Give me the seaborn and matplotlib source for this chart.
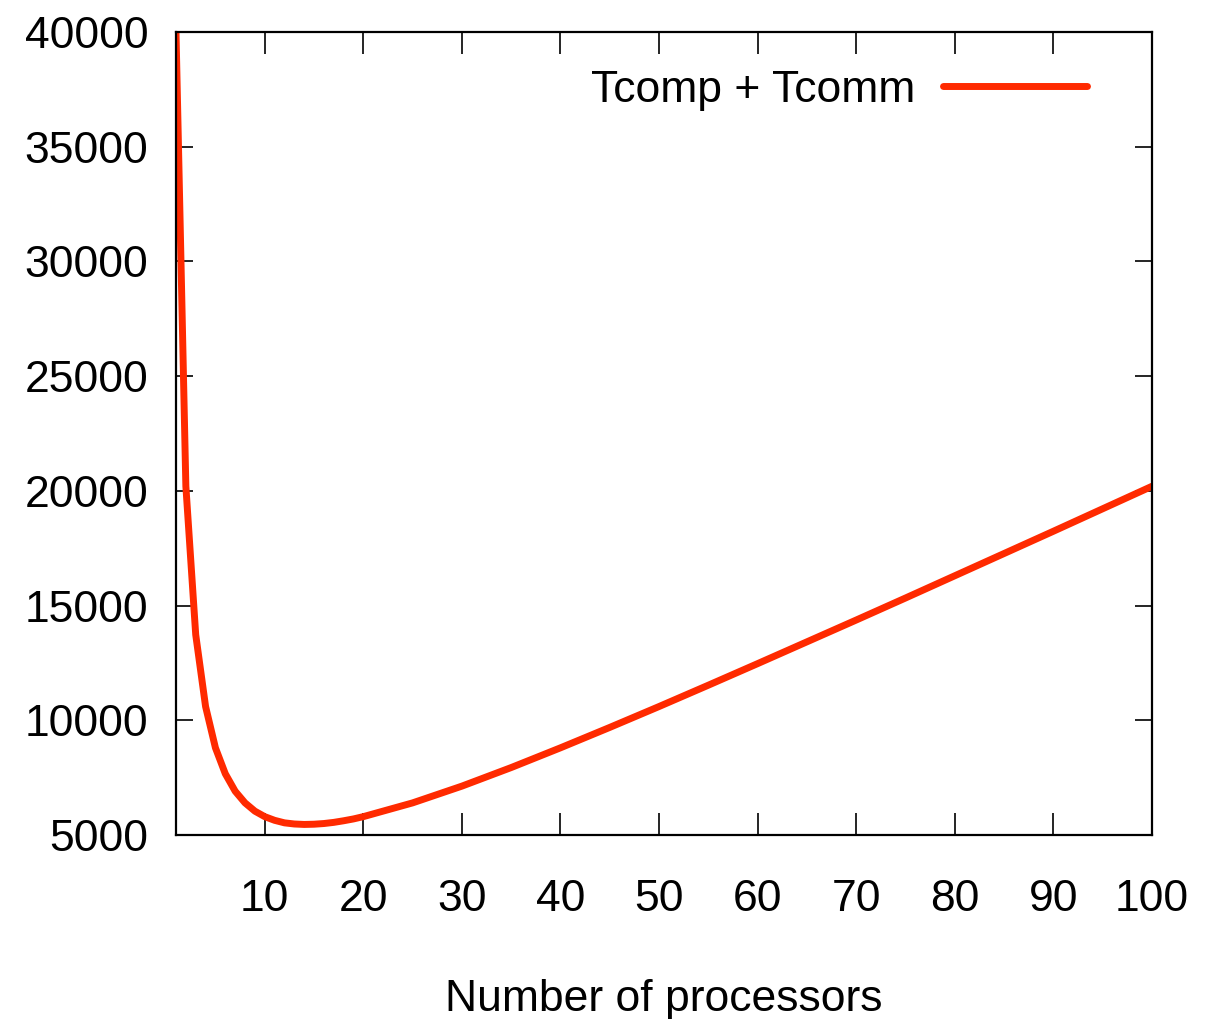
import numpy as np
import pandas as pd
import matplotlib
matplotlib.use('Agg')
import matplotlib.pyplot as plt
import seaborn as sns

# values (processors -> time)
procs = [1, 2, 3, 4, 5, 6, 7, 8, 9, 10, 11, 12, 13, 14, 15, 16, 17, 18, 19, 20,
         25, 30, 35, 40, 45, 50, 55, 60, 65, 70, 75, 80, 85, 90, 95, 100]
total_time = [40000, 20200, 13730, 10600, 8800, 7670, 6910, 6400, 6040, 5800,
              5640, 5530, 5480, 5460, 5470, 5500, 5550, 5620, 5700, 5800,
              6400, 7130, 7940, 8800, 9690, 10600, 11530, 12470, 13420, 14370,
              15330, 16300, 17270, 18240, 19220, 20200]
x_ticks = [10, 20, 30, 40, 50, 60, 70, 80, 90, 100]
y_ticks = [5000, 10000, 15000, 20000, 25000, 30000, 35000, 40000]
series_name = 'Tcomp + Tcomm'

df = pd.DataFrame({'p': procs, 't': total_time})

sns.set_style('ticks')
plt.rcParams['font.family'] = ['Liberation Sans', 'DejaVu Sans']
plt.rcParams['text.color'] = 'black'
plt.rcParams['axes.labelcolor'] = 'black'
plt.rcParams['xtick.color'] = 'black'
plt.rcParams['ytick.color'] = 'black'

fig = plt.figure(figsize=(12.2, 10.19), dpi=100)
ax = fig.add_axes([176 / 1220, 1 - 835 / 1019, 976 / 1220, 803 / 1019])

sns.lineplot(data=df, x='p', y='t', ax=ax, color='#ff2a00', lw=5,
             label=series_name)

ax.set_xlim(1, 100)
ax.set_ylim(5000, 40000)
ax.set_xticks(x_ticks)
ax.set_yticks(y_ticks)
ax.tick_params(axis='both', direction='in', labelsize=32, width=1.2,
               top=True, right=True, color='black', labelcolor='black')
ax.tick_params(axis='x', length=16, pad=32)
ax.tick_params(axis='y', length=12.5, pad=20)
for s in ax.spines.values():
    s.set_linewidth(1.6)
    s.set_color('black')

ax.set_xlabel('Number of processors', fontsize=32, labelpad=42, color='black')
ax.set_ylabel('')

leg = ax.legend(loc='upper right', bbox_to_anchor=(0.933, 0.953),
                frameon=False, markerfirst=False, fontsize=32,
                handlelength=3.24, handletextpad=0.62,
                borderpad=0, borderaxespad=0)
for t in leg.get_texts():
    t.set_color('black')

fig.savefig('out.png', dpi=100)
